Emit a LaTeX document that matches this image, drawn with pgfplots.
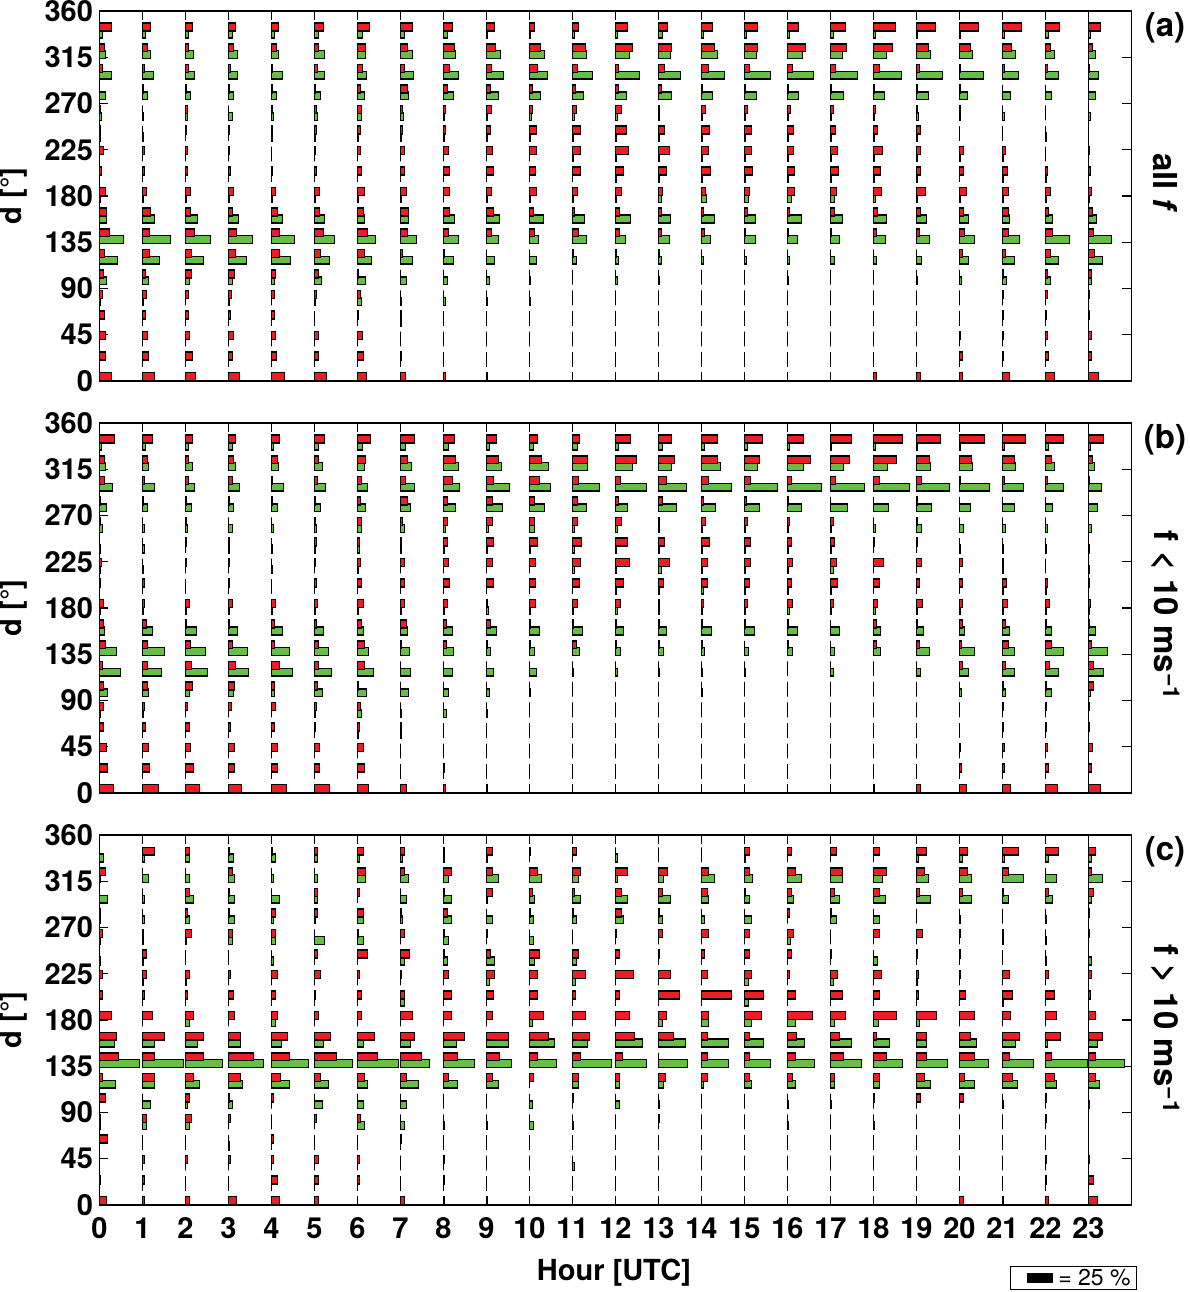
\documentclass[border=0pt]{standalone}
\usepackage{fontspec}
\setmainfont{TeX Gyre Heros}
\usepackage{pgfplots}
\usepackage{pgfplotstable}
\pgfplotsset{compat=1.18}
\definecolor{barred}{RGB}{236,30,36}
\definecolor{bargreen}{RGB}{102,190,70}

\pgfdeclareplotmark{hbR}{%
  \pgfpathrectangle{\pgfpoint{0pt}{0.4pt}}{\pgfpoint{\blen pt}{7.9pt}}%
  \pgfusepathqfillstroke}
\pgfdeclareplotmark{hbG}{%
  \pgfpathrectangle{\pgfpoint{0pt}{-6.5pt}}{\pgfpoint{\blen pt}{7.9pt}}%
  \pgfusepathqfillstroke}

\pgfplotstableread{
h d0 d20 d40 d60 d80 d100 d120 d140 d160 d180 d200 d220 d240 d260 d280 d300 d320 d340
0 12 6 6 5 3 4 5 10 7 6 2 4 1 1 0 3 5 12
1 12 6 5 3 4 3 7 7 8 4 2 2 0 0 1 2 5 8
2 10 7 4 3 3 6 6 9 5 5 2 2 1 2 1 3 3 7
3 11 4 5 2 3 6 7 8 4 5 2 1 1 0 1 2 5 7
4 13 5 4 3 3 4 8 8 6 4 1 0 1 1 1 1 5 7
5 12 4 4 0 2 4 6 9 5 5 2 1 2 2 1 3 4 9
6 9 6 5 1 3 1 7 10 6 7 4 3 3 4 3 5 8 12
7 5 1 0 1 0 0 2 7 8 6 4 4 2 2 7 4 7 12
8 2 0 0 0 0 0 1 5 6 6 6 5 2 2 4 6 11 9
9 1 0 0 0 0 0 0 5 7 5 7 6 4 5 4 5 9 8
10 0 0 0 0 0 0 0 5 4 7 6 7 7 3 3 8 11 5
11 0 0 0 0 0 0 1 6 2 5 8 8 8 4 3 5 13 6
12 0 0 0 0 0 0 1 4 4 6 8 13 11 6 3 3 17 12
13 0 0 0 0 0 0 1 3 3 4 8 11 6 1 3 6 13 9
14 0 0 0 0 0 0 0 3 2 4 9 7 8 4 1 7 13 11
15 0 0 0 0 0 0 0 1 3 5 8 7 7 3 1 5 13 13
16 0 0 0 0 0 0 0 1 2 7 7 6 6 3 1 5 18 11
17 0 0 0 0 0 0 0 1 4 6 8 7 5 3 1 5 16 15
18 3 0 0 0 0 0 0 3 4 8 7 9 4 2 1 6 19 22
19 4 0 0 0 0 0 0 3 4 9 4 4 4 1 1 3 12 19
20 3 3 1 0 0 0 3 5 4 7 4 4 0 1 1 1 11 19
21 7 1 1 1 1 1 3 6 6 6 5 3 0 0 0 2 9 19
22 9 3 2 1 2 2 5 7 3 5 2 0 0 0 0 2 5 14
23 10 3 3 1 1 3 6 5 4 3 2 1 0 0 0 1 4 12
}\rA
\pgfplotstableread{
h d0 d20 d40 d60 d80 d100 d120 d140 d160 d180 d200 d220 d240 d260 d280 d300 d320 d340
0 0 0 0 0 1 7 18 24 7 1 0 0 0.5 2 6 12 6 3
1 0 0 0 0 1 6 17 28 12 1 0 0 1 1 5 11 8 3
2 0 0 0 0 0 4 18 25 12 1 0 0 0 2 5 9 8 3
3 0 0 0 0 1 4 18 24 10 1 0 0 0 4 5 9 9 4
4 0 0 0 0 0 3 19 23 11 1 0 0 1 2 5 11 7 3
5 0 0 0 0 1 7 15 20 10 1 0 0 1 3 6 10 10 4
6 0 0 0 0 4 8 14 18 7 1 0 0 1 4 7 9 8 5
7 0 0 0 1 1 6 12 16 8 1 0 0 1 3 8 13 12 4
8 0 0 0 0 2 4 10 15 11 0 0 0 1 1 10 15 12 4
9 0 0 0 0 1 3 8 12 13 1 0 0 1 1 12 17 14 1
10 0 0 0 0 1 1 7 9 14 1 0 0 1 2 11 18 15 1
11 0 0 0 0 0 0 4 14 12 1 0 1 1 2 11 20 14 2
12 0 0 0 0 0 2 3 10 15 1 1 1 1 2 11 24 14 2
13 0 0 0 0 0 1 3 11 12 3 1 1 1 1 13 22 12 4
14 0 0 0 0 0 0 2 9 13 5 1 1 1 1 11 23 16 2
15 0 0 0 0 0 0 2 11 11 4 1 1 1 1 12 26 12 2
16 0 0 0 0 0 1 2 10 14 4 1 1 1 1 11 26 15 2
17 0 0 0 0 0 0 4 9 12 4 1 1 1 1 13 27 12 3
18 0 0 0 0 0 0 3 12 13 2 1 1 1 1 11 28 13 2
19 0 0 0 0 0 1 5 13 10 1 1 1 1 2 12 26 14 1
20 0 0 0 0 0 2 9 15 9 1 0 1 0 1 8 24 13 1
21 0 0 0 0 0 4 12 17 7 1 1 1 0 2 8 16 13 2
22 0 0 0 0 0 5 13 24 7 1 1 0 1 0 6 13 9 3
23 0 0 0 0 0 3 14 23 8 1 0 0 0 2 7 10 7 2
}\gA
\pgfplotstableread{
h d0 d20 d40 d60 d80 d100 d120 d140 d160 d180 d200 d220 d240 d260 d280 d300 d320 d340
0 14 8 7 4 4 4 3 6 4 4 1 2 0 1 1 5 5 15
1 16 7 6 3 2 5 5 5 4 2 2 0 0 0 1 2 5 10
2 14 8 5 4 2 7 6 5 1 4 0 1 1 1 1 3 3 7
3 13 6 6 2 3 6 7 4 1 4 1 1 1 0 1 4 5 7
4 15 6 6 3 4 3 8 3 3 4 0 0 0 0 1 1 6 8
5 15 5 5 1 2 3 4 4 2 3 2 1 2 1 1 3 4 10
6 11 7 6 2 3 1 7 7 4 6 4 3 2 4 3 4 8 13
7 6 0 0 1 0 0 0 1 6 4 4 4 1 2 7 5 7 14
8 2 1 0 0 0 0 0 3 3 4 6 5 4 4 4 9 12 11
9 1 0 0 0 0 0 0 1 4 1 7 6 7 6 6 7 12 10
10 0 0 0 0 0 0 0 1 1 6 6 6 8 5 5 10 12 8
11 0 0 0 0 0 0 0 4 1 5 7 8 9 5 5 6 15 7
12 0 0 0 0 0 0 0 1 1 5 8 14 12 6 3 5 21 15
13 0 0 0 0 0 0 0 1 1 1 5 11 6 1 4 8 16 13
14 0 0 0 0 0 0 0 1 1 2 6 6 8 4 2 7 16 16
15 0 0 0 0 0 0 0 0 1 3 5 6 6 3 2 6 15 18
16 0 0 0 0 0 0 0 1 1 5 4 5 4 2 1 4 23 16
17 0 0 0 0 0 0 0 0 0 3 7 6 4 3 0 5 19 21
18 1 0 0 0 0 0 0 3 3 4 6 10 1 0 0 6 23 29
19 4 0 0 0 0 0 0 3 1 6 3 5 1 1 1 5 13 24
20 7 2 1 0 0 0 3 2 3 3 3 3 0 0 0 1 12 25
21 8 2 2 1 1 1 3 6 3 5 4 1 0 0 0 2 12 23
22 12 3 2 1 1 1 4 6 1 4 2 0 0 0 0 2 6 18
23 12 3 4 1 1 5 5 3 1 2 1 0 0 0 0 1 4 15
}\rB
\pgfplotstableread{
h d0 d20 d40 d60 d80 d100 d120 d140 d160 d180 d200 d220 d240 d260 d280 d300 d320 d340
0 0 0 0 0 1 8 21 17 5 1 0 1 1 3 7 13 6 2
1 0 0 0 0 1 6 19 22 10 1 0 1 2 2 5 12 6 3
2 0 0 0 0 0 4 22 20 11 1 0 0 0 2 6 9 7 3
3 0 0 0 0 0 5 20 19 9 1 0 0 1 4 5 11 7 4
4 0 0 0 0 0 3 21 18 11 1 0 1 1 2 6 12 7 2
5 0 0 0 0 1 8 17 14 9 1 0 0 1 2 6 11 8 4
6 0 0 0 1 4 9 16 11 6 1 0 1 2 4 8 10 7 5
7 0 0 0 1 1 8 10 9 7 1 0 0 1 4 10 14 11 5
8 0 0 0 0 3 5 9 10 9 1 0 0 1 2 12 16 15 5
9 0 0 0 0 1 3 7 4 10 2 0 0 1 2 16 23 15 3
10 0 0 0 0 0 1 7 5 10 1 0 0 1 5 15 21 19 4
11 0 0 0 0 0 0 1 7 10 1 0 2 2 2 14 27 15 5
12 0 0 0 0 0 0 2 5 8 2 1 1 1 2 12 31 17 3
13 0 0 0 0 0 0 1 5 8 1 1 3 1 1 18 28 13 4
14 0 0 0 0 0 1 1 3 10 1 2 1 1 1 14 30 19 3
15 0 0 0 0 0 0 1 4 10 1 1 1 1 1 15 33 13 3
16 0 0 0 0 0 0 0 5 10 2 1 1 1 1 14 34 16 2
17 0 0 0 0 0 0 3 4 9 1 1 3 1 1 17 34 13 1
18 0 0 0 0 0 0 0 7 7 2 0 0 0 2 15 36 14 2
19 0 0 0 0 0 0 4 13 7 1 0 0 0 5 15 33 14 1
20 0 0 0 0 0 2 9 15 5 1 0 0 1 4 11 30 13 1
21 0 0 0 0 0 3 12 12 7 1 1 1 1 3 12 21 13 2
22 0 0 0 0 0 6 13 18 6 1 1 0 1 2 7 18 9 3
23 0 0 0 0 0 2 15 19 7 1 0 1 1 3 9 13 6 2
}\gB
\pgfplotstableread{
h d0 d20 d40 d60 d80 d100 d120 d140 d160 d180 d200 d220 d240 d260 d280 d300 d320 d340
0 7 1 0 8 1 6 3 19 17 12 3 3 0 3 1 0 6 0
1 2 2 2 0 4 0 12 12 22 10 2 4 4 1 0 0 0 12
2 4 0 2 0 6 4 8 18 18 8 2 4 0 6 2 4 0 4
3 8 0 2 0 2 1 12 25 12 6 5 2 0 4 1 1 4 1
4 8 6 2 2 0 2 9 18 16 6 4 6 0 4 4 0 0 1
5 4 4 4 0 2 0 6 22 16 4 1 6 3 0 3 3 0 3
6 0 2 2 0 3 0 7 20 17 4 4 2 10 1 6 2 8 6
7 4 0 0 1 0 0 6 21 14 12 4 1 9 4 1 0 4 4
8 1 1 1 0 0 0 5 14 21 8 8 5 1 1 4 1 8 1
9 1 0 0 0 0 0 6 13 22 6 7 8 4 1 0 6 6 6
10 0 0 0 0 0 0 4 8 19 14 8 8 10 0 1 3 8 1
11 0 0 0 0 0 1 6 8 17 13 3 13 6 0 1 2 8 4
12 0 0 0 0 0 0 4 7 19 14 4 18 4 1 6 6 12 0
13 0 0 0 0 1 0 7 0 15 8 21 12 1 4 1 4 9 0
14 0 0 0 0 0 0 6 6 6 7 30 6 3 7 0 6 7 0
15 0 0 0 0 0 0 5 5 5 17 19 7 5 5 0 1 5 5
16 0 0 0 0 0 0 5 8 9 25 8 2 4 6 2 4 8 4
17 0 0 0 0 0 0 4 13 9 15 12 7 1 0 1 4 12 6
18 0 0 0 0 0 1 6 13 3 23 6 8 0 6 0 6 13 6
19 0 0 0 0 0 4 8 10 10 20 2 2 1 6 0 3 8 10
20 4 0 0 0 0 4 5 15 11 15 6 1 1 1 0 3 8 8
21 1 0 0 0 0 0 10 7 17 8 10 7 0 1 0 1 6 16
22 3 1 1 0 1 1 9 6 15 11 9 3 0 0 0 3 0 13
23 9 5 1 0 0 0 7 7 14 7 2 3 0 1 1 5 3 7
}\rC
\pgfplotstableread{
h d0 d20 d40 d60 d80 d100 d120 d140 d160 d180 d200 d220 d240 d260 d280 d300 d320 d340
0 0 0 0 0 1 0 16 40 15 0 0 0 1 1 1 8 1 4
1 0 0 0 0 4 8 12 41 12 0 0 1 1 1 2 2 6 2
2 0 0 0 0 4 2 14 37 12 4 0 1 0 1 4 8 4 4
3 0 0 0 1 0 4 14 35 12 0 0 0 0 4 6 6 6 5
4 0 0 0 0 0 0 18 37 10 4 0 0 2 4 2 8 2 4
5 0 0 0 0 0 8 14 38 9 0 0 0 0 10 1 3 3 3
6 0 0 0 0 7 6 10 41 6 0 0 0 0 6 6 0 8 2
7 0 0 0 0 4 6 18 29 10 0 4 0 4 0 2 6 8 2
8 0 0 0 0 1 0 14 31 13 0 0 0 4 5 8 8 5 1
9 0 0 0 0 1 0 12 25 22 0 0 3 8 0 6 1 12 1
10 0 0 0 0 4 3 0 27 25 3 0 0 5 4 4 5 12 0
11 0 0 2 0 1 0 6 39 15 0 0 3 4 0 4 8 6 0
12 0 0 0 0 0 4 4 31 27 0 0 0 0 0 8 12 2 2
13 0 0 0 0 0 1 5 29 27 4 0 0 0 0 4 12 5 0
14 0 0 0 0 0 0 2 27 27 7 0 0 0 0 3 7 13 0
15 0 0 0 0 0 0 7 26 19 7 4 4 0 0 7 5 8 1
16 0 0 0 0 1 1 8 27 17 8 0 0 0 3 0 6 14 0
17 0 0 0 0 0 1 4 31 21 4 0 3 0 0 6 9 12 0
18 0 0 0 0 1 0 6 29 16 5 0 0 4 0 6 12 9 0
19 0 0 0 0 0 0 14 31 10 3 0 1 0 0 0 14 12 2
20 0 0 0 0 0 0 15 29 17 0 0 0 0 0 1 12 12 3
21 0 0 0 0 0 1 15 31 13 0 1 0 0 1 0 6 21 2
22 0 0 0 0 0 0 11 42 2 0 0 0 1 1 1 7 11 3
23 0 0 0 0 0 1 11 36 9 0 0 0 3 0 0 3 14 3
}\gC

\pgfplotsset{
  /pgf/number format/assume math mode=true,
  panel/.style={
    scale only axis, width=1032pt, height=370pt,
    xmin=0, xmax=24, ymin=0, ymax=360,
    xtick={0,...,23}, ytick={0,45,...,360},
    tick align=inside, major tick length=9pt,
    axis line style={line width=1.2pt},
    every tick/.style={black, line width=1.2pt},
    ticklabel style={font=\bfseries\fontsize{29}{30}\selectfont},
    yticklabel style={xshift=-3pt},
    xticklabel style={yshift=-9pt},
    clip mode=individual,
    clip marker paths=true,
    every axis y label/.style={at={(axis description cs:-0.0835,0.5)}, rotate=90, anchor=center,
      font=\bfseries\fontsize{29}{30}\selectfont},
    ylabel={d [°]},
  },
  gbar/.style={only marks, scatter, point meta=x, mark=hbG,
    scatter/use mapped color={draw=black, fill=bargreen},
    mark options={line width=1.5pt, solid}},
  rbar/.style={only marks, scatter, point meta=x, mark=hbR,
    scatter/use mapped color={draw=black, fill=barred},
    mark options={line width=1.5pt, solid}},
}
\newcommand\sidefont{\bfseries\fontsize{33}{36}\selectfont}

\begin{document}
\begin{tikzpicture}
\useasboundingbox (0,0) rectangle (1190pt,1292pt);

% ---------- panel (a)
\begin{axis}[panel, at={(99.5pt,911pt)}, anchor=south west, xticklabels={}]
\pgfplotsinvokeforeach{0,20,...,340}{%
  \addplot[gbar, visualization depends on={\thisrow{d#1}\as\blen}] table[x=h, y expr=#1] {\gA};
}
\pgfplotsinvokeforeach{0,20,...,340}{%
  \addplot[rbar, visualization depends on={\thisrow{d#1}\as\blen}] table[x=h, y expr=#1] {\rA};
}
\addplot[black, line width=1.2pt] coordinates {(23,0) (23,360)};
\node[font=\sidefont] at (axis description cs:1.0325,0.955) {(a)};
\node[font=\sidefont, rotate=-90] at (axis description cs:1.0325,0.535) {all \textit{f}};
\end{axis}

% ---------- panel (b)
\begin{axis}[panel, at={(99.5pt,499pt)}, anchor=south west, xticklabels={}]
\pgfplotsinvokeforeach{0,20,...,340}{%
  \addplot[gbar, visualization depends on={\thisrow{d#1}\as\blen}] table[x=h, y expr=#1] {\gB};
}
\pgfplotsinvokeforeach{0,20,...,340}{%
  \addplot[rbar, visualization depends on={\thisrow{d#1}\as\blen}] table[x=h, y expr=#1] {\rB};
}
\addplot[black, line width=1.2pt] coordinates {(23,0) (23,360)};
\node[font=\sidefont] at (axis description cs:1.0325,0.955) {(b)};
\node[font=\sidefont, rotate=-90] at (axis description cs:1.0325,0.48) {f < 10 ms\textsuperscript{−1}};
\end{axis}

% ---------- panel (c)
\begin{axis}[panel, at={(99.5pt,87pt)}, anchor=south west,
  xlabel={Hour [UTC]},
  every axis x label/.style={at={(axis description cs:0.4985,-0.184)}, anchor=center,
    font=\bfseries\fontsize{29}{30}\selectfont},
  legend style={at={(axis description cs:1.0053,-0.2297)}, anchor=south east,
    draw=black, line width=0.9pt, font=\fontsize{23}{25}\selectfont,
    inner xsep=4pt, inner ysep=0.5pt, cells={anchor=west}},
  legend image code/.code={\path (-13pt,0pt) (28pt,0pt); \fill[black] (0pt,-4.5pt) rectangle (25pt,4.5pt);},
]
\addlegendimage{black}
\addlegendentry{= 25 \%}
\pgfplotsinvokeforeach{0,20,...,340}{%
  \addplot[gbar, visualization depends on={\thisrow{d#1}\as\blen}] table[x=h, y expr=#1] {\gC};
}
\pgfplotsinvokeforeach{0,20,...,340}{%
  \addplot[rbar, visualization depends on={\thisrow{d#1}\as\blen}] table[x=h, y expr=#1] {\rC};
}
\addplot[black, line width=1.2pt] coordinates {(23,0) (23,360)};
\node[font=\sidefont] at (axis description cs:1.0325,0.955) {(c)};
\node[font=\sidefont, rotate=-90] at (axis description cs:1.0325,0.476) {f > 10 ms\textsuperscript{−1}};
\end{axis}
\end{tikzpicture}
\end{document}
